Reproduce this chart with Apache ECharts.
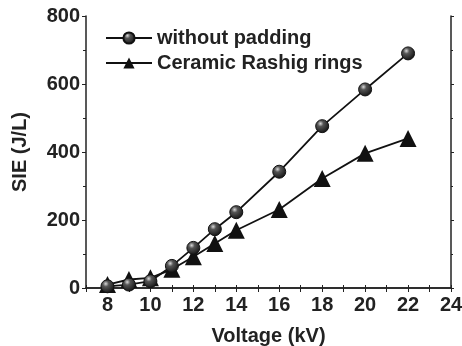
<!DOCTYPE html>
<html>
<head>
<meta charset="utf-8">
<script src="https://cdn.jsdelivr.net/npm/echarts@6/dist/echarts.min.js"></script>
<style>
html,body{margin:0;padding:0;background:#fff;}
#chart{width:462px;height:346px;}
</style>
</head>
<body>
<div id="chart"></div>
<script>
// 数据
var voltage = [8, 9, 10, 11, 12, 13, 14, 16, 18, 20, 22];
var noPadding = [5, 10, 20, 65, 118, 173, 223, 342, 476, 584, 690];
var rashig = [10, 25, 30, 55, 92, 131, 170, 231, 322, 396, 440];
var seriesNames = ['without padding', 'Ceramic Rashig rings'];

function pairs(xs, ys) {
	var out = [];
	for (var i = 0; i < xs.length; i++) out.push([xs[i], ys[i]]);
	return out;
}

var font = 'Liberation Sans, Arial, sans-serif';
var ink = '#222';
var ball = new echarts.graphic.RadialGradient(0.38, 0.32, 0.7, [
	{offset: 0, color: '#d8d8d8'},
	{offset: 0.3, color: '#555'},
	{offset: 1, color: '#111'}
]);
var labelStyle = {fontFamily: font, fontWeight: 'bold', fontSize: 20, color: ink};

var myChart = echarts.init(document.getElementById('chart'));
myChart.setOption({
	animation: false,
	grid: {left: 86, right: 11, top: 16, bottom: 58, outerBoundsMode: 'none'},
	legend: {
		left: 100, top: 23,
		orient: 'vertical',
		itemWidth: 46, itemHeight: 14, itemGap: 5,
		textStyle: {fontFamily: font, fontWeight: 'bold', fontSize: 20, color: ink},
		data: seriesNames
	},
	xAxis: [{
		type: 'value', min: 7, max: 24, interval: 1,
		name: 'Voltage (kV)', nameLocation: 'middle', nameGap: 38,
		nameTextStyle: labelStyle,
		axisLine: {lineStyle: {color: ink, width: 1.5}},
		axisTick: {length: 4, lineStyle: {color: ink}},
		axisLabel: {
			fontFamily: font, fontWeight: 'bold', fontSize: 20, color: ink, margin: 7,
			formatter: function (v) { return v % 2 === 0 ? v : ''; }
		},
		splitLine: {show: false}
	}, {
		// 上边框刻度
		type: 'value', min: 7, max: 24, interval: 1, position: 'top',
		axisLine: {show: true, lineStyle: {color: ink, width: 1.5}},
		axisTick: {length: 3, lineStyle: {color: ink}},
		axisLabel: {show: false},
		splitLine: {show: false}
	}],
	yAxis: [{
		type: 'value', min: 0, max: 800, interval: 200,
		name: 'SIE (J/L)', nameLocation: 'middle', nameGap: 56,
		nameTextStyle: labelStyle,
		axisLine: {show: true, lineStyle: {color: ink, width: 1.5}},
		axisTick: {show: true, length: 4, lineStyle: {color: ink}},
		minorTick: {show: true, splitNumber: 2, length: 3, lineStyle: {color: ink}},
		axisLabel: {fontFamily: font, fontWeight: 'bold', fontSize: 20, color: ink, margin: 6},
		splitLine: {show: false}
	}, {
		// 右边框刻度
		type: 'value', min: 0, max: 800, interval: 200, position: 'right',
		axisLine: {show: true, lineStyle: {color: ink, width: 1.5}},
		axisTick: {show: true, length: 3, lineStyle: {color: ink}},
		minorTick: {show: true, splitNumber: 2, length: 2, lineStyle: {color: ink}},
		axisLabel: {show: false},
		splitLine: {show: false}
	}],
	series: [{
		name: seriesNames[0],
		type: 'line',
		data: pairs(voltage, noPadding),
		symbol: 'circle', symbolSize: 13,
		lineStyle: {color: '#111', width: 1.8},
		itemStyle: {color: ball, borderColor: '#111', borderWidth: 1},
		z: 3
	}, {
		name: seriesNames[1],
		type: 'line',
		data: pairs(voltage, rashig),
		symbol: 'triangle', symbolSize: 17,
		lineStyle: {color: '#111', width: 1.8},
		itemStyle: {color: '#111'},
		z: 2
	}]
});
</script>
</body>
</html>
